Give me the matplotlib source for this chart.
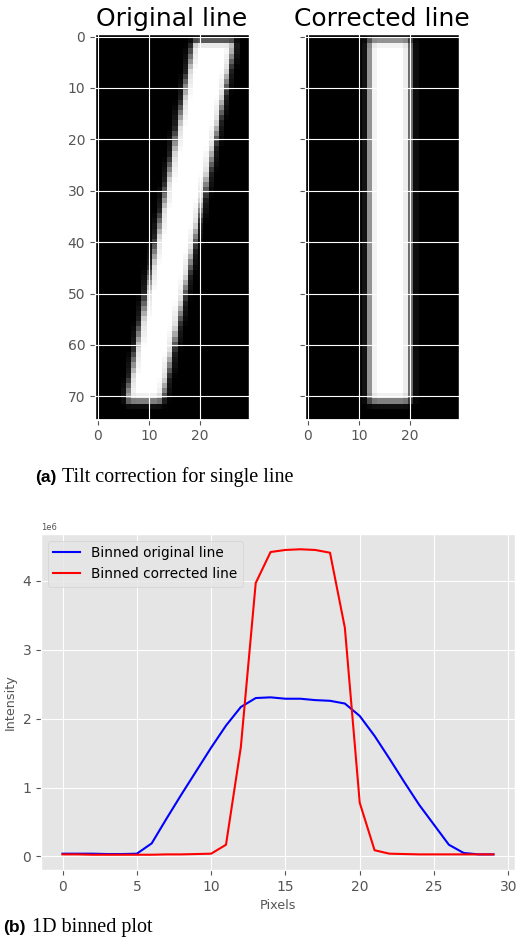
import numpy as np
import matplotlib
matplotlib.use("Agg")
import matplotlib.pyplot as plt

plt.style.use("ggplot")

# image stroke outlines (rows top/bottom, column edges at top and at bottom)
img_shape = (75, 30)
orig_rows = (1.2, 71.0)
orig_left = (18.6, 5.6)
orig_right = (26.6, 12.6)
corr_rows = (0.9, 71.0)
corr_left = (11.9, 11.9)
corr_right = (19.9, 19.9)

# binned profiles (x in pixels, intensity in units of 1e6)
pixels = list(range(30))
binned_original = [0.04, 0.04, 0.04, 0.035, 0.035, 0.04, 0.19, 0.55, 0.90, 1.24,
                   1.58, 1.90, 2.17, 2.30, 2.31, 2.29, 2.29, 2.27, 2.26, 2.22,
                   2.04, 1.75, 1.42, 1.08, 0.75, 0.46, 0.17, 0.05, 0.03, 0.03]
binned_corrected = [0.03, 0.03, 0.025, 0.025, 0.025, 0.025, 0.025, 0.03, 0.03, 0.035,
                    0.04, 0.17, 1.59, 3.97, 4.42, 4.45, 4.46, 4.45, 4.41, 3.32,
                    0.78, 0.09, 0.04, 0.035, 0.03, 0.03, 0.03, 0.03, 0.03, 0.03]


def overlap(lo, hi, a, b):
    return np.clip(np.minimum(hi, b) - np.maximum(lo, a), 0, 1)


def blur(a, k=0.12):
    p = np.pad(a, 1, mode="edge")
    a = k * p[1:-1, :-2] + (1 - 2 * k) * p[1:-1, 1:-1] + k * p[1:-1, 2:]
    p = np.pad(a, 1, mode="edge")
    return k * p[:-2, 1:-1] + (1 - 2 * k) * p[1:-1, 1:-1] + k * p[2:, 1:-1]


def stroke(rows, left, right):
    nr, nc = img_shape
    r = np.arange(nr)[:, None] + 0.0
    c = np.arange(nc)[None, :] + 0.0
    f = np.clip((r - rows[0]) / (rows[1] - rows[0]), 0, 1)
    L = left[0] + (left[1] - left[0]) * f
    R = right[0] + (right[1] - right[0]) * f
    h = overlap(c - 0.5, c + 0.5, L, R)
    v = overlap(r - 0.5, r + 0.5, rows[0], rows[1])
    return blur(h * v)


fig = plt.figure(figsize=(5.18, 9.39), dpi=100)
W, H = 518, 939

ax1 = fig.add_axes([95 / W, 1 - 419.5 / H, 154 / W, 385.5 / H])
ax2 = fig.add_axes([305 / W, 1 - 419.5 / H, 154 / W, 385.5 / H], sharey=ax1)
for ax, im, title in [(ax1, stroke(orig_rows, orig_left, orig_right), "Original line"),
                      (ax2, stroke(corr_rows, corr_left, corr_right), "Corrected line")]:
    ax.imshow(im, cmap="gray", vmin=0, vmax=1, aspect="auto", interpolation="nearest")
    ax.set_title(title, fontsize=18, color="black")
    ax.set_xticks([0, 10, 20])
    ax.set_yticks(range(0, 80, 10))
    ax.tick_params(labelsize=10)
ax2.tick_params(labelleft=False)

ax3 = fig.add_axes([41 / W, 1 - 870 / H, 474 / W, 336 / H])
ax3.plot(pixels, np.array(binned_original) * 1e6, color="blue", lw=1.5, label="Binned original line")
ax3.plot(pixels, np.array(binned_corrected) * 1e6, color="red", lw=1.5, label="Binned corrected line")
ax3.set_xlabel("Pixels", fontsize=9.2)
ax3.set_ylabel("Intensity", fontsize=9.2)
ax3.tick_params(labelsize=10)
ax3.yaxis.get_offset_text().set_fontsize(6)
ax3.legend(loc="upper left", fontsize=9.8)

r = fig.canvas.get_renderer()
for x0, yb, tag, text in [(35, 482, "(a)", "Tilt correction for single line"),
                          (3, 932, "(b)", "1D binned plot")]:
    t = fig.text(x0 / W, 1 - yb / H, tag, fontweight="bold", family="Liberation Sans",
                 fontsize=12.5, va="baseline")
    bb = t.get_window_extent(r)
    fig.text((bb.x1 + 6) / W, 1 - yb / H, text, family="Liberation Serif",
             fontsize=14.5, va="baseline")

fig.savefig("out.png", dpi=100)
